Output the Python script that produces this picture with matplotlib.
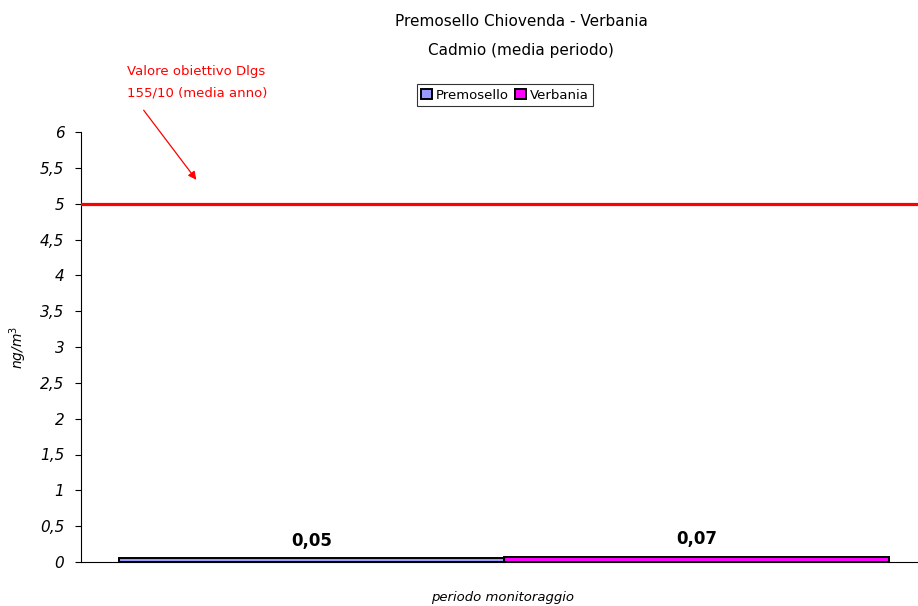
import matplotlib
matplotlib.use("Agg")
import matplotlib.pyplot as plt
from matplotlib.ticker import FuncFormatter, MultipleLocator

# Data
series = ["Premosello", "Verbania"]
values = [0.05, 0.07]
value_labels = ["0,05", "0,07"]
colors = ["#9999FF", "#FF00FF"]
target_value = 5.0
title_lines = ["Premosello Chiovenda - Verbania", "Cadmio (media periodo)"]
target_note = ["Valore obiettivo Dlgs", "155/10 (media anno)"]

plt.rcParams["font.family"] = ["DejaVu Sans"]

fig = plt.figure(figsize=(9.18, 6.06), dpi=100)
W, H = 918, 606
ax = fig.add_axes([81 / W, (H - 562) / H, (W - 81) / W, (562 - 132) / H])

positions = [-0.5, 0.5]
bars = ax.bar(positions, values, width=1.0, color=colors, edgecolor="black",
              linewidth=1.4, label=series, zorder=3)

for x, v, lab in zip(positions, values, value_labels):
    ax.text(x, v + 0.12, lab, ha="center", va="bottom", fontsize=12,
            fontweight="bold", family="Liberation Sans Narrow")

ax.axhline(target_value, color="#FF0000", linewidth=2.3, zorder=4)

ax.set_xlim(-1.1, 1.075)
ax.set_ylim(0, 6)
ax.yaxis.set_major_locator(MultipleLocator(0.5))
ax.yaxis.set_major_formatter(FuncFormatter(
    lambda v, p: ("%g" % v).replace(".", ",")))
ax.tick_params(axis="y", direction="out", length=4, width=0.8, labelsize=11,
               pad=8)
for t in ax.get_yticklabels():
    t.set_fontstyle("italic")
ax.set_xticks([])

for s in ("top", "right"):
    ax.spines[s].set_visible(False)
ax.spines["left"].set_linewidth(0.8)
ax.spines["bottom"].set_linewidth(0.8)

ax.set_ylabel("ng/m$^3$", fontstyle="italic", fontsize=10)
ax.yaxis.set_label_coords(-52 / (W - 81), 0.5)

fig.text(503 / W, 1 - 598 / H, "periodo monitoraggio", ha="center", va="center",
         fontstyle="italic", fontsize=9.5, family="Liberation Sans Narrow")

for i, line in enumerate(title_lines):
    fig.text(521 / W, 1 - (22 + 28 * i) / H, line, ha="center", va="center",
             fontsize=11)

leg = fig.legend(handles=bars.patches, labels=series, loc="center",
                 bbox_to_anchor=(505 / W, 1 - 95 / H), ncol=2, fontsize=9.5,
                 frameon=True, fancybox=False, edgecolor="black",
                 handlelength=0.8, handleheight=0.8, handletextpad=0.3,
                 columnspacing=0.5, borderpad=0.35, borderaxespad=0)
leg.get_frame().set_linewidth(0.8)

for i, line in enumerate(target_note):
    fig.text(127 / W, 1 - (71 + 22 * i) / H, line, color="#FF0000",
             fontsize=9.5, ha="left", va="center")
ax.annotate("", xy=(198, H - 182), xycoords="figure pixels",
            xytext=(142, H - 108), textcoords="figure pixels",
            arrowprops=dict(arrowstyle="-|>", color="#FF0000", lw=0.9,
                            mutation_scale=12))

fig.savefig("out.png", dpi=100)
